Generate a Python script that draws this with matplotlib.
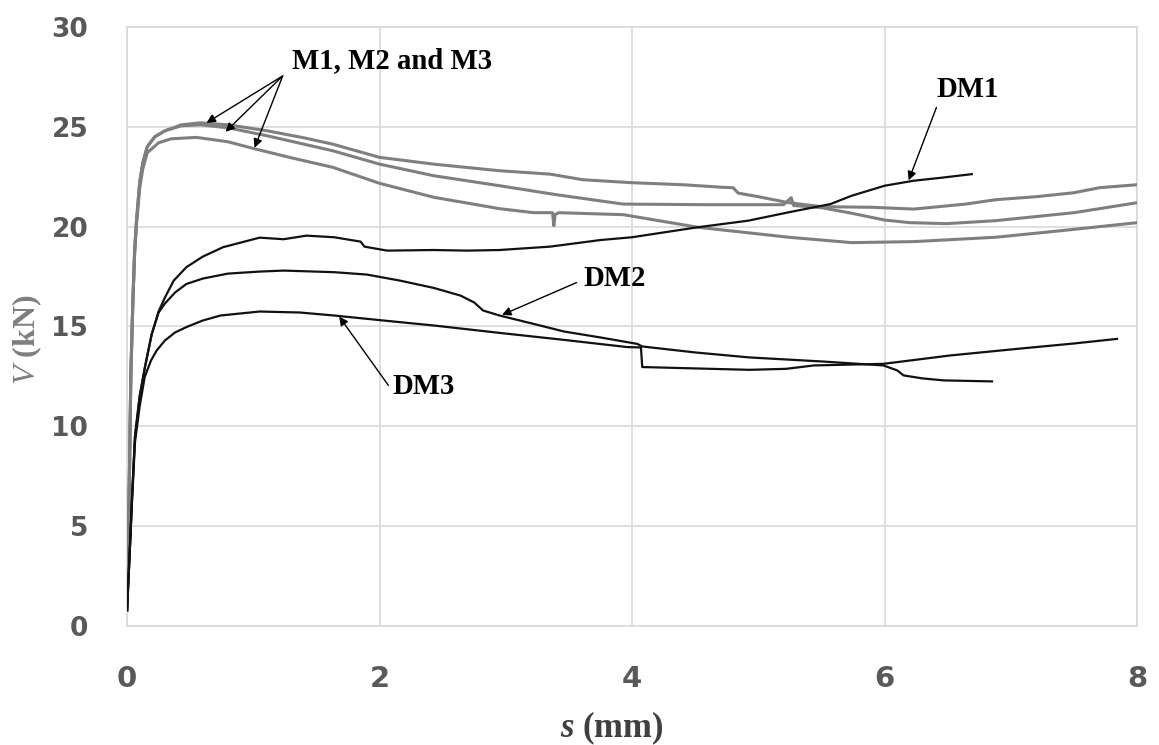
import matplotlib
matplotlib.use("Agg")
import matplotlib.pyplot as plt

plt.rcParams["mathtext.fontset"] = "custom"
plt.rcParams["mathtext.rm"] = "Liberation Serif"
plt.rcParams["mathtext.it"] = "Liberation Serif:italic"
plt.rcParams["mathtext.bf"] = "Liberation Serif:bold"
plt.rcParams["mathtext.bfit"] = "Liberation Serif:italic:bold"

# ---- measured load–slip curves: s (mm), V (kN) ----
m1_s = [0, 0.01, 0.02, 0.03, 0.045, 0.06, 0.075, 0.1, 0.125, 0.16, 0.22, 0.3, 0.43, 0.58,
        0.8, 1.11, 1.4, 1.63, 2.0, 2.43, 2.95, 3.35, 3.61, 4.0, 4.4, 4.72, 4.8, 4.84, 5.0,
        5.24, 5.5, 5.9, 6.23, 6.64, 6.88, 7.2, 7.5, 7.7, 8.0]
m1_v = [0.8, 4, 8, 12.5, 16, 18.8, 20.3, 22.2, 23.2, 24.0, 24.5, 24.8, 25.1, 25.2,
        25.1, 24.8, 24.45, 24.13, 23.47, 23.13, 22.8, 22.63, 22.35, 22.2, 22.1, 21.97, 21.95,
        21.68, 21.5, 21.2, 21.0, 20.97, 20.88, 21.13, 21.35, 21.5, 21.7, 21.95, 22.1]

m2_s = [0, 0.01, 0.02, 0.03, 0.045, 0.06, 0.075, 0.1, 0.125, 0.16, 0.22, 0.3, 0.43, 0.58,
        0.8, 1.11, 1.63, 2.0, 2.43, 2.95, 3.4, 3.93, 4.59, 5.2, 5.26, 5.28, 5.3, 5.5, 5.74,
        6.0, 6.2, 6.49, 6.88, 7.5, 8.0]
m2_v = [0.8, 4, 8, 12.5, 16, 18.8, 20.3, 22.2, 23.2, 24.0, 24.5, 24.8, 25.05, 25.1,
        24.95, 24.55, 23.8, 23.13, 22.55, 22.05, 21.6, 21.13, 21.1, 21.1, 21.45, 21.05, 21.05,
        20.95, 20.67, 20.33, 20.2, 20.15, 20.3, 20.7, 21.2]

m3_s = [0, 0.01, 0.02, 0.03, 0.045, 0.06, 0.075, 0.1, 0.125, 0.16, 0.25, 0.35, 0.55, 0.8,
        1.01, 1.3, 1.63, 2.0, 2.43, 2.95, 3.22, 3.37, 3.38, 3.39, 3.42, 3.93, 4.52, 5.24,
        5.74, 6.23, 6.88, 7.4, 8.0]
m3_v = [0.8, 4, 8, 12.5, 16, 18.6, 20.1, 21.9, 22.9, 23.7, 24.2, 24.4, 24.47, 24.25,
        23.9, 23.45, 22.97, 22.17, 21.47, 20.9, 20.7, 20.7, 20.05, 20.6, 20.7, 20.6, 19.97, 19.47,
        19.2, 19.25, 19.47, 19.8, 20.2]

dm1_s = [0, 0.02, 0.04, 0.063, 0.1, 0.143, 0.195, 0.25, 0.3, 0.37, 0.47, 0.6, 0.76, 1.05,
         1.24, 1.42, 1.64, 1.85, 1.88, 2.06, 2.43, 2.69, 2.95, 3.35, 3.75, 4.0, 4.52, 4.92,
         5.24, 5.57, 5.74, 6.0, 6.23, 6.45, 6.69]
dm1_v = [0.8, 3.5, 6.5, 9.5, 11.5, 13.0, 14.6, 15.75, 16.45, 17.3, 17.97, 18.5, 18.97, 19.45,
         19.37, 19.55, 19.47, 19.25, 19.0, 18.8, 18.83, 18.8, 18.83, 19.0, 19.33, 19.47, 19.97, 20.3,
         20.72, 21.13, 21.55, 22.05, 22.3, 22.45, 22.63]

dm2_s = [0, 0.02, 0.04, 0.063, 0.1, 0.143, 0.195, 0.25, 0.3, 0.38, 0.47, 0.6, 0.8, 1.05,
         1.24, 1.64, 1.9, 2.16, 2.43, 2.64, 2.75, 2.82, 2.95, 3.22, 3.46, 3.75, 4.04, 4.08,
         4.5, 4.93, 5.5, 5.99, 6.1, 6.15, 6.3, 6.47, 6.85]
dm2_v = [0.8, 3.5, 6.5, 9.5, 11.5, 13.0, 14.6, 15.7, 16.15, 16.7, 17.13, 17.4, 17.65, 17.75,
         17.8, 17.72, 17.6, 17.3, 16.93, 16.55, 16.2, 15.8, 15.55, 15.13, 14.75, 14.45, 14.13, 14.0,
         13.7, 13.45, 13.25, 13.05, 12.8, 12.55, 12.4, 12.3, 12.25]

dm3_s = [0, 0.02, 0.04, 0.063, 0.1, 0.14, 0.19, 0.235, 0.3, 0.38, 0.47, 0.6, 0.74, 1.05,
         1.37, 1.64, 2.03, 2.43, 2.95, 3.46, 3.96, 4.07, 4.08, 4.5, 4.93, 5.22, 5.44, 5.99,
         6.52, 7.05, 7.5, 7.84]
dm3_v = [0.8, 3.5, 6.3, 9.2, 11.0, 12.47, 13.3, 13.8, 14.3, 14.7, 14.97, 15.3, 15.55, 15.75,
         15.7, 15.55, 15.3, 15.05, 14.68, 14.33, 13.97, 13.95, 12.97, 12.9, 12.83, 12.88, 13.05, 13.13,
         13.55, 13.88, 14.15, 14.38]

x_ticks = [0, 2, 4, 6, 8]
y_ticks = [0, 5, 10, 15, 20, 25, 30]

GRAY_CURVE = "#7f7f7f"
GRID = "#d9d9d9"
TICK = "#595959"

fig = plt.figure(figsize=(11.59, 7.45), dpi=100)
ax = fig.add_axes([0.1096, 0.1597, 0.8716, 0.8041])

for s, v in [(m1_s, m1_v), (m2_s, m2_v), (m3_s, m3_v)]:
    ax.plot(s, v, color=GRAY_CURVE, lw=2.2, solid_joinstyle="round", zorder=3)
for s, v in [(dm1_s, dm1_v), (dm2_s, dm2_v), (dm3_s, dm3_v)]:
    ax.plot(s, v, color="#111111", lw=1.6, solid_joinstyle="round", zorder=4)

ax.set_xlim(0, 8)
ax.set_ylim(0, 30)
ax.set_xticks(x_ticks)
ax.set_yticks(y_ticks)
ax.grid(True, color=GRID, lw=1.2)
ax.set_axisbelow(True)
for sp in ax.spines.values():
    sp.set_color(GRID)
    sp.set_linewidth(1.2)
ax.tick_params(length=0)
ax.tick_params(axis="y", pad=28, labelsize=19, labelcolor=TICK)
ax.tick_params(axis="x", pad=28, labelsize=21, labelcolor=TICK)
for lbl in ax.get_yticklabels():
    lbl.set_fontweight("bold")
for lbl in ax.get_xticklabels():
    lbl.set_fontweight("bold")
    lbl.set_family(["Liberation Sans Narrow", "DejaVu Sans"])

serif = ["Liberation Serif", "DejaVu Serif"]
ax.set_xlabel(r"$\mathbfit{s}$ (mm)", fontsize=25, fontweight="bold", family=serif,
              color="#404040", va="center")
ax.xaxis.set_label_coords(0.480, -0.170)
ax.set_ylabel(r"$\mathit{V}$ (kN)", fontsize=23, fontweight="bold", family=serif,
              color="#7f7f7f", va="center")
ax.yaxis.set_label_coords(-0.099, 0.477)

arrow = dict(arrowstyle="-|>", color="black", lw=1.0, mutation_scale=13,
             shrinkA=0, shrinkB=0)
label_kw = dict(fontsize=20.7, fontweight="bold", family=serif, color="black")

# specimen group labels and leader arrows
ax.text(1.31, 28.3, "M1, M2 and M3", ha="left", va="center", **label_kw)
for tip in [(0.63, 25.2), (0.78, 24.75), (1.01, 23.95)]:
    ax.annotate("", xy=tip, xytext=(1.233, 27.55), arrowprops=arrow)

ax.text(6.66, 26.85, "DM1", ha="center", va="center", **label_kw)
ax.annotate("", xy=(6.19, 22.32), xytext=(6.41, 25.97), arrowprops=arrow)

ax.text(3.86, 17.4, "DM2", ha="center", va="center", **label_kw)
ax.annotate("", xy=(2.97, 15.58), xytext=(3.56, 17.2), arrowprops=arrow)

ax.text(2.35, 12.0, "DM3", ha="center", va="center", **label_kw)
ax.annotate("", xy=(1.68, 15.5), xytext=(2.07, 12.05), arrowprops=arrow)

fig.savefig("out.png", dpi=100)
